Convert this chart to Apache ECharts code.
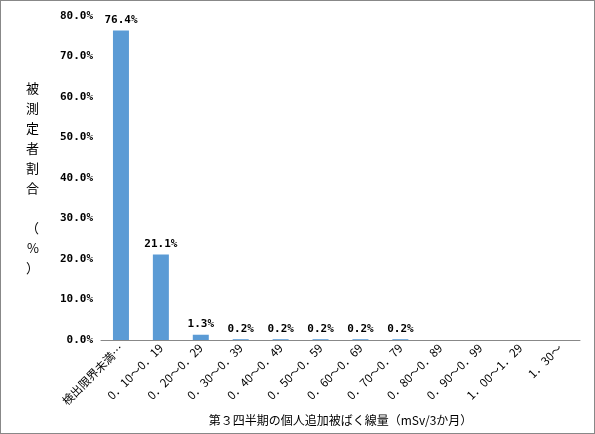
<!DOCTYPE html>
<html><head><meta charset="utf-8">
<script src="https://cdn.jsdelivr.net/npm/echarts@6/dist/echarts.min.js"></script>
<style>body{margin:0}#c{width:595px;height:434px;box-sizing:border-box;border:1px solid #888}</style>
</head><body><div id="c"></div>
<script>
var categories = ['検出限界未満…','0．10～0．19','0．20～0．29','0．30～0．39','0．40～0．49','0．50～0．59','0．60～0．69','0．70～0．79','0．80～0．89','0．90～0．99','1．00～1．29','1．30～'];
var values = [76.4, 21.1, 1.3, 0.2, 0.2, 0.2, 0.2, 0.2, 0, 0, 0, 0];
var font = '"Noto Sans CJK JP", sans-serif';
var chart = echarts.init(document.getElementById('c'));
chart.setOption({
  animation: false,
  grid: {left: 100, right: 14, top: 15, bottom: 93},
  xAxis: {
    type: 'category', data: categories,
    name: '第３四半期の個人追加被ばく線量（mSv/3か月）', nameLocation: 'middle', nameGap: 74,
    nameTextStyle: {fontFamily: font, fontSize: 12, color: '#000'},
    axisLine: {lineStyle: {color: '#888'}}, axisTick: {show: false},
    axisLabel: {rotate: 45, interval: 0, fontFamily: font, fontSize: 11.5, color: '#000', margin: 6}
  },
  yAxis: {
    type: 'value', min: 0, max: 80, interval: 10,
    name: '被\n測\n定\n者\n割\n合\n\n（\n%\n）', nameLocation: 'middle', nameGap: 62, nameRotate: 0,
    nameTextStyle: {fontFamily: font, fontSize: 13, color: '#000', lineHeight: 20},
    axisLine: {show: false}, axisTick: {show: false}, splitLine: {show: false},
    axisLabel: {formatter: function (v) { return v.toFixed(1) + '%'; }, fontFamily: 'DejaVu Sans Mono', fontWeight: 'bold', fontSize: 11, color: '#000'}
  },
  series: [{
    type: 'bar', data: values, barWidth: 16,
    itemStyle: {color: '#5b9bd5'},
    label: {show: true, position: 'top', fontFamily: 'DejaVu Sans Mono', fontWeight: 'bold', fontSize: 11, color: '#000',
      formatter: function (p) { return p.value > 0 ? p.value.toFixed(1) + '%' : ''; }}
  }]
});
</script></body></html>
